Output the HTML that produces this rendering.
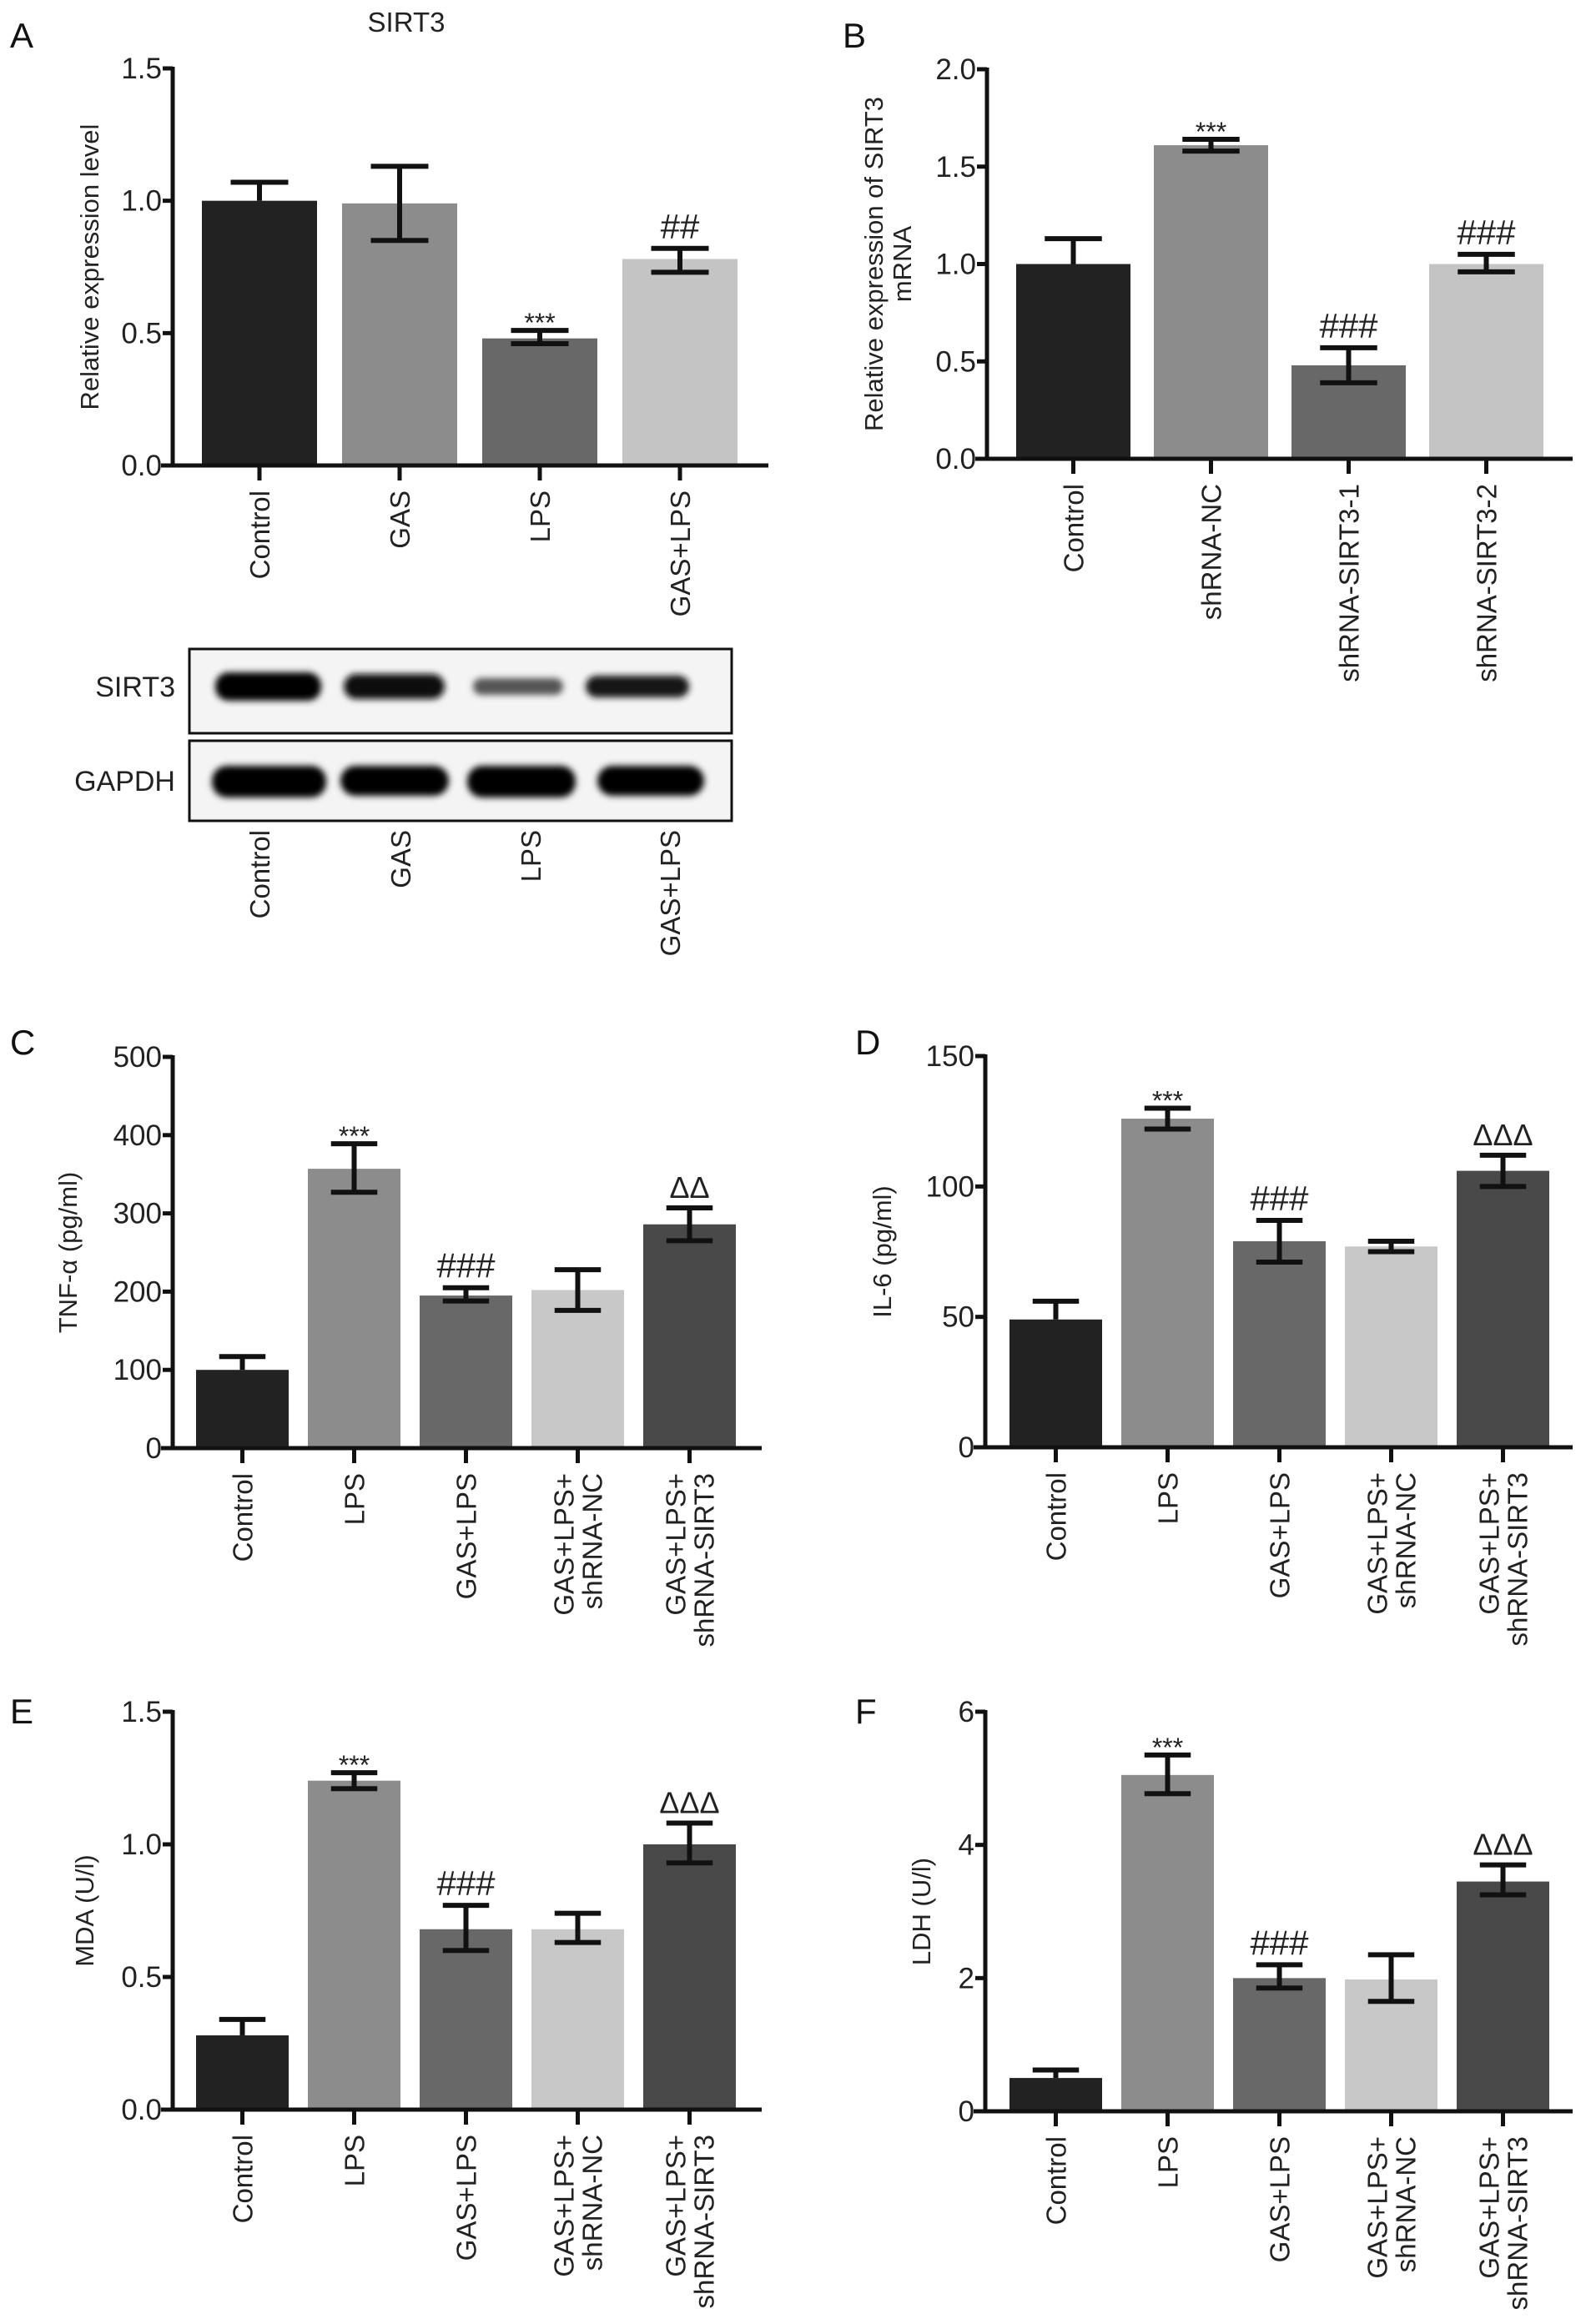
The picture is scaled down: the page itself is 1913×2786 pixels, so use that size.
<!DOCTYPE html>
<html><head><meta charset="utf-8"><style>
html,body{margin:0;padding:0;background:#fff;}
svg{display:block;font-family:"Liberation Sans",Arial,sans-serif;}
</style></head><body>
<svg id="fig" width="1913" height="2786" viewBox="0 0 1913 2786" xmlns="http://www.w3.org/2000/svg">
<defs>
<filter id="blur" x="-20%" y="-50%" width="140%" height="200%"><feGaussianBlur stdDeviation="4"/></filter>
</defs>
<g id="letters" font-size="42" fill="#111">
<text x="12" y="57">A</text>
<text x="1010" y="57">B</text>
<text x="12" y="1264">C</text>
<text x="1025" y="1264">D</text>
<text x="12" y="2066">E</text>
<text x="1025" y="2066">F</text>
</g>
<text x="487" y="38" font-size="33" text-anchor="middle" fill="#222">SIRT3</text>
<g id="blot">
<rect x="227" y="778" width="650" height="101" fill="#f4f4f4" stroke="#111" stroke-width="3"/>
<rect x="227" y="888" width="650" height="96" fill="#f4f4f4" stroke="#111" stroke-width="3"/>
<g filter="url(#blur)">
<rect x="258" y="806" width="127" height="34" rx="16" fill="#050505"/>
<rect x="412" y="808" width="121" height="30" rx="15" fill="#0a0a0a"/>
<rect x="567" y="813" width="108" height="20" rx="10" fill="#555"/>
<rect x="702" y="810" width="124" height="26" rx="13" fill="#151515"/>
<rect x="254" y="918" width="137" height="38" rx="18" fill="#030303"/>
<rect x="408" y="918" width="130" height="36" rx="18" fill="#030303"/>
<rect x="560" y="918" width="130" height="38" rx="18" fill="#030303"/>
<rect x="716" y="918" width="128" height="36" rx="18" fill="#030303"/>
</g>
<text x="210" y="835" font-size="34" text-anchor="end" fill="#222">SIRT3</text>
<text x="210" y="948" font-size="34" text-anchor="end" fill="#222">GAPDH</text>
</g>
</svg>
<script>
const NS='http://www.w3.org/2000/svg';
const svg=document.getElementById('fig');
const colors5=['#222222','#8c8c8c','#686868','#c8c8c8','#494949'];
const colors4=['#222222','#8c8c8c','#686868','#c4c4c4'];

// ---- Data ----
const catsA=['Control','GAS','LPS','GAS+LPS'];
const valsA=[1.0,0.99,0.48,0.78];
const errHiA=[1.07,1.13,0.51,0.82];
const errLoA=[1.0,0.85,0.46,0.73];
const annA=['','','***','##'];
const ticksA=[0,0.5,1.0,1.5];

const catsB=['Control','shRNA-NC','shRNA-SIRT3-1','shRNA-SIRT3-2'];
const valsB=[1.0,1.61,0.48,1.0];
const errHiB=[1.13,1.64,0.57,1.05];
const errLoB=[1.0,1.58,0.39,0.96];
const annB=['','***','###','###'];
const ticksB=[0,0.5,1.0,1.5,2.0];

const cats5=[['Control'],['LPS'],['GAS+LPS'],['GAS+LPS+','shRNA-NC'],['GAS+LPS+','shRNA-SIRT3']];
const valsC=[100,357,195,202,286];
const errHiC=[117,389,205,228,307];
const errLoC=[100,327,188,176,265];
const annC=['','***','###','','ΔΔ'];
const ticksC=[0,100,200,300,400,500];

const valsD=[49,126,79,77,106];
const errHiD=[56,130,87,79,112];
const errLoD=[49,122,71,75,100];
const annD=['','***','###','','ΔΔΔ'];
const ticksD=[0,50,100,150];

const valsE=[0.28,1.24,0.68,0.68,1.0];
const errHiE=[0.34,1.27,0.77,0.74,1.08];
const errLoE=[0.28,1.21,0.60,0.63,0.93];
const annE=['','***','###','','ΔΔΔ'];
const ticksE=[0,0.5,1.0,1.5];

const valsF=[0.5,5.05,2.0,1.98,3.45];
const errHiF=[0.62,5.35,2.2,2.35,3.7];
const errLoF=[0.5,4.77,1.85,1.65,3.25];
const annF=['','***','###','','ΔΔΔ'];
const ticksF=[0,2,4,6];

function el(tag,attrs,parent){const e=document.createElementNS(NS,tag);for(const k in attrs)e.setAttribute(k,attrs[k]);(parent||svg).appendChild(e);return e;}

function chart(id,c){
  const g=el('g',{});
  
  
  const y=v=>c.yZero-(v/c.max)*(c.yZero-c.yTop);
  const xc=i=>c.left+i*c.step+c.w/2;
  c.vals.forEach((v,i)=>{
    const r=el('rect',{x:c.left+i*c.step,y:y(v),width:c.w,height:c.yZero-y(v),fill:c.colors[i]},g);
    
    
  });
  c.vals.forEach((v,i)=>{
    const eg=el('g',{stroke:'#111','stroke-width':6,fill:'none'},g);
    
    
    const cx=xc(i),cw=c.w*0.25;
    el('line',{x1:cx,x2:cx,y1:y(c.hi[i]),y2:y(c.lo[i])},eg);
    el('line',{x1:cx-cw,x2:cx+cw,y1:y(c.hi[i]),y2:y(c.hi[i])},eg);
    if(c.lo[i]<v-1e-9) el('line',{x1:cx-cw,x2:cx+cw,y1:y(c.lo[i]),y2:y(c.lo[i])},eg);
    if(c.ann[i]){
      const a=c.ann[i];
      const star=a==='***';
      const fs=star?32:(a[0]==='#'?42:36);
      const t=el('text',{x:cx,y:star?y(c.hi[i])+2:y(c.hi[i])-12,'text-anchor':'middle','font-size':fs,fill:'#222'},g);
      t.textContent=a;
      
      
    }
  });
  const ax=el('g',{stroke:'#111','stroke-width':5},g);
  
  
  el('line',{x1:c.x0,x2:c.x0,y1:c.yTop-2,y2:c.yZero+2},ax);
  el('line',{x1:c.x0-14,x2:c.xEnd,y1:c.yZero,y2:c.yZero},ax);
  c.ticks.forEach(t=>{
    el('line',{x1:c.x0-12,x2:c.x0,y1:y(t),y2:y(t)},ax);
    const tl=el('text',{x:c.x0-13,y:y(t)+12,'text-anchor':'end','font-size':35,fill:'#222',stroke:'none'},g);
    tl.textContent=c.fmt(t);
    
    
  });
  c.cats.forEach((lab,i)=>{
    const cx=xc(i);
    el('line',{x1:cx,x2:cx,y1:c.yZero,y2:c.yZero+18},ax);
    const lines=Array.isArray(lab)?lab:[lab];
    lines.forEach((ln,j)=>{
      const off=(j-(lines.length-1)/2)*34;
      const tx=cx+off+12, ty=c.yZero+30;
      const t=el('text',{x:tx,y:ty,'text-anchor':'end','font-size':33,fill:'#222',transform:`rotate(-90 ${tx} ${ty})`},g);
      t.textContent=ln;
      
      
    });
  });
  c.ylab.forEach((ln,j)=>{
    const tx=c.ylx+j*34, ty=(c.yTop+c.yZero)/2;
    const t=el('text',{x:tx,y:ty,'text-anchor':'middle','font-size':31,fill:'#222',transform:`rotate(-90 ${tx} ${ty})`},g);
    t.textContent=ln;
    
    
  });
}
const f1=v=>v.toFixed(1), f0=v=>String(v);
chart('a',{x0:207,xEnd:921,yZero:558,yTop:82,max:1.5,left:242,step:168,w:138,vals:valsA,hi:errHiA,lo:errLoA,ann:annA,ticks:ticksA,fmt:f1,cats:catsA,colors:colors4,ylab:['Relative expression level'],ylx:118});
chart('b',{x0:1183,xEnd:1885,yZero:550,yTop:83,max:2.0,left:1218,step:165,w:137,vals:valsB,hi:errHiB,lo:errLoB,ann:annB,ticks:ticksB,fmt:f1,cats:catsB,colors:colors4,ylab:['Relative expression of SIRT3','mRNA'],ylx:1058});
chart('c',{x0:207,xEnd:913,yZero:1736,yTop:1267,max:500,left:235,step:134,w:111,vals:valsC,hi:errHiC,lo:errLoC,ann:annC,ticks:ticksC,fmt:f0,cats:cats5,colors:colors5,ylab:['TNF-α (pg/ml)'],ylx:92});
chart('d',{x0:1181,xEnd:1885,yZero:1735,yTop:1266,max:150,left:1210,step:134,w:111,vals:valsD,hi:errHiD,lo:errLoD,ann:annD,ticks:ticksD,fmt:f0,cats:cats5,colors:colors5,ylab:['IL-6 (pg/ml)'],ylx:1068});
chart('e',{x0:207,xEnd:913,yZero:2529,yTop:2052,max:1.5,left:235,step:134,w:111,vals:valsE,hi:errHiE,lo:errLoE,ann:annE,ticks:ticksE,fmt:f1,cats:cats5,colors:colors5,ylab:['MDA (U/l)'],ylx:112});
chart('f',{x0:1181,xEnd:1885,yZero:2531,yTop:2052,max:6,left:1210,step:134,w:111,vals:valsF,hi:errHiF,lo:errLoF,ann:annF,ticks:ticksF,fmt:f0,cats:cats5,colors:colors5,ylab:['LDH (U/l)'],ylx:1115});

const blotLabels=['Control','GAS','LPS','GAS+LPS'];
const blotX=[311,480,636,803];
blotLabels.forEach((lab,i)=>{
  const tx=blotX[i]+12, ty=995;
  const t=el('text',{x:tx,y:ty,'text-anchor':'end','font-size':33,fill:'#222',transform:`rotate(-90 ${tx} ${ty})`});
  t.textContent=lab;
  
  
});
</script>
</body></html>
